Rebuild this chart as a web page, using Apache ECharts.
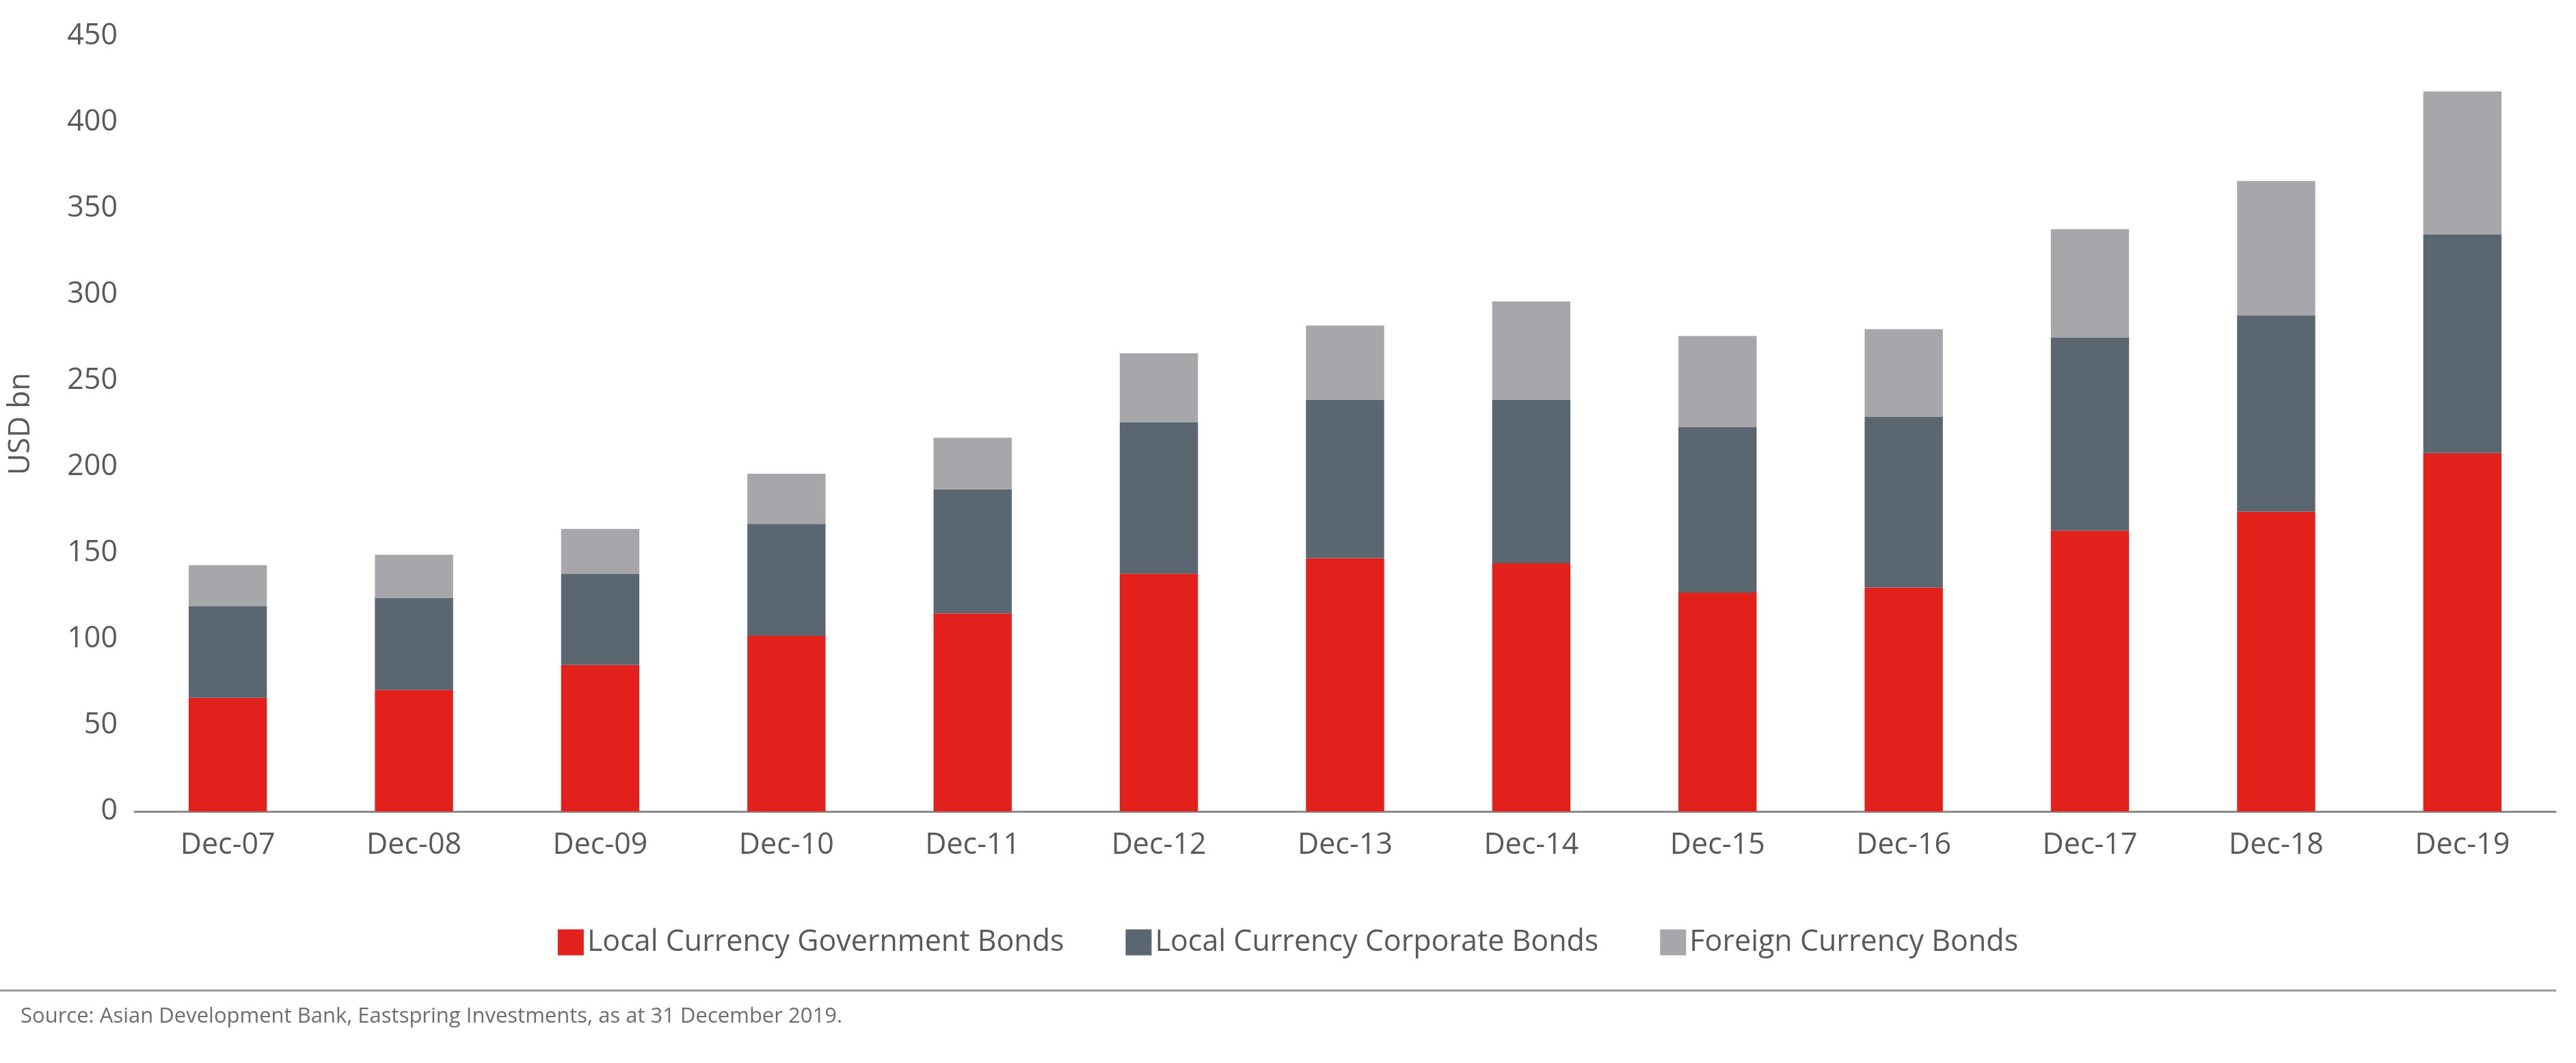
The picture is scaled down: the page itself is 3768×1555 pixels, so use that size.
<!DOCTYPE html>
<html><head><meta charset="utf-8">
<script src="https://cdn.jsdelivr.net/npm/echarts@6/dist/echarts.min.js"></script>
<style>html,body{margin:0;padding:0;background:#fff}#c{width:3768px;height:1555px}</style>
</head><body><div id="c"></div>
<script>
const categories=['Dec-07','Dec-08','Dec-09','Dec-10','Dec-11','Dec-12','Dec-13','Dec-14','Dec-15','Dec-16','Dec-17','Dec-18','Dec-19'];
const govBonds=[66,70.5,85,102,115,138,147,144,127,130,163,174,208];
const corpBonds=[53,53.5,53,65,72,88,92,95,96,99,112,114,127];
const foreignBonds=[24,25,26,29,30,40,43,57,53,51,63,78,83];
const yTicks=[0,450,50];
const font='"Open Sans", "Noto Sans", sans-serif';
const chart=echarts.init(document.getElementById('c'));
chart.setOption({
  animation:false,
  textStyle:{fontFamily:font},
  grid:{left:197,right:30,top:53,bottom:368,containLabel:false},
  legend:{bottom:150,left:'center',itemWidth:38,itemHeight:38,itemGap:90,icon:'rect',
    textStyle:{fontSize:43,color:'#58595b',fontFamily:font},
    data:['Local Currency Government Bonds','Local Currency Corporate Bonds','Foreign Currency Bonds']},
  xAxis:{type:'category',data:categories,
    axisLine:{lineStyle:{color:'#8a8a8a',width:3}},axisTick:{show:false},
    axisLabel:{fontSize:43,color:'#58595b',margin:28}},
  yAxis:{type:'value',min:yTicks[0],max:yTicks[1],interval:yTicks[2],
    name:'USD bn',nameLocation:'middle',nameGap:145,nameRotate:90,
    nameTextStyle:{fontSize:43,color:'#58595b'},
    axisLine:{show:false},axisTick:{show:false},splitLine:{show:false},
    axisLabel:{fontSize:43,color:'#58595b',margin:25}},
  series:[
    {name:'Local Currency Government Bonds',type:'bar',stack:'a',data:govBonds,barWidth:'42%',itemStyle:{color:'#e2211c'}},
    {name:'Local Currency Corporate Bonds',type:'bar',stack:'a',data:corpBonds,itemStyle:{color:'#5a6770'}},
    {name:'Foreign Currency Bonds',type:'bar',stack:'a',data:foreignBonds,itemStyle:{color:'#a7a6aa'}}
  ],
  graphic:[
    {type:'line',shape:{x1:0,y1:1449,x2:3739,y2:1449},style:{stroke:'#9a9a9a',lineWidth:3}},
    {type:'text',left:30,top:1472,style:{text:'Source: Asian Development Bank, Eastspring Investments, as at 31 December 2019.',fontSize:31,fill:'#6d6e71',fontFamily:font}}
  ]
});
</script></body></html>
